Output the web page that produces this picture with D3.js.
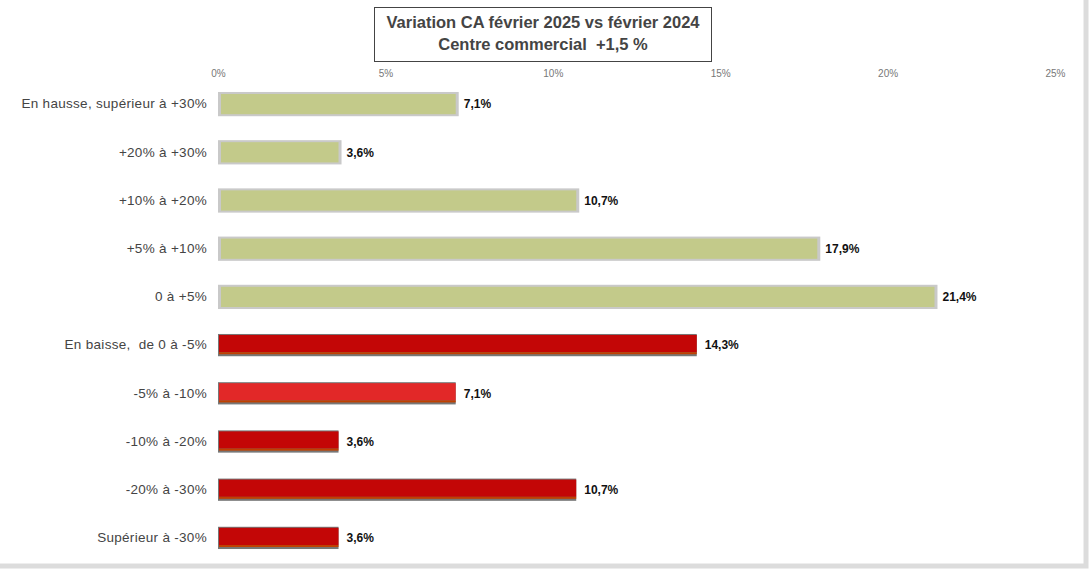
<!DOCTYPE html>
<html><head><meta charset="utf-8">
<script src="https://cdn.jsdelivr.net/npm/d3@7"></script>
<style>body{margin:0;background:#fff}svg{display:block}text{white-space:pre}</style>
</head><body>
<svg id="c" width="1090" height="570"></svg>
<script>
const categories = ["En hausse, supérieur à +30%","+20% à +30%","+10% à +20%","+5% à +10%","0 à +5%","En baisse,  de 0 à -5%","-5% à -10%","-10% à -20%","-20% à -30%","Supérieur à -30%"];
const values = [7.1,3.6,10.7,17.9,21.4,14.3,7.1,3.6,10.7,3.6];
const groups = ["up","up","up","up","up","down","down","down","down","down"];
const tickValues = [0,5,10,15,20,25];
const titleLines = ["Variation CA février 2025 vs février 2024","Centre commercial  +1,5 %"];

const svg = d3.select("#c");
const font = "'Liberation Sans', Arial, sans-serif";

// frame
svg.append("rect").attr("x",-4).attr("y",-4).attr("width",1090).attr("height",570)
  .attr("fill","none").attr("stroke","#dcdcdc").attr("stroke-width",5);

const x = d3.scaleLinear().domain([0,25]).range([218,1055]);
const y = d3.scaleBand().domain(categories).range([80,562]).paddingInner(0.58).paddingOuter(0.29);

// top axis
const ax = svg.append("g").attr("transform","translate(0,77)")
  .call(d3.axisTop(x).tickValues(tickValues).tickFormat(d=>d+"%").tickSize(0).tickPadding(0));
ax.select(".domain").remove();
ax.selectAll("text").attr("font-family",font).attr("font-size",10).attr("fill","#777");

// y labels
const ay = svg.append("g").attr("transform","translate(207,0)")
  .call(d3.axisLeft(y).tickSize(0).tickPadding(0));
ay.select(".domain").remove();
ay.selectAll("text").attr("font-family",font).attr("font-size",13.5).attr("letter-spacing","0.3px").attr("fill","#444");

const colors = {up:"#c3ca8a", down:"#c30606"};
const bars = svg.append("g");
categories.forEach((c,i)=>{
  const y0 = y(c), h = y.bandwidth(), w = x(values[i]) - x(0);
  if (groups[i]==="up") {
    bars.append("rect").attr("x",x(0)).attr("y",y0-2).attr("width",w+3).attr("height",h+4).attr("fill","#c9c9c9");
    bars.append("rect").attr("x",x(0)+3).attr("y",y0).attr("width",w-3).attr("height",h).attr("fill",colors.up);
  } else {
    bars.append("rect").attr("x",x(0)).attr("y",y0-1).attr("width",w).attr("height",h+2).attr("fill","#777");
    bars.append("rect").attr("x",x(0)+1).attr("y",y0).attr("width",w-1).attr("height",h-3)
      .attr("fill", i===6 ? "#e22828" : colors.down);
    bars.append("rect").attr("x",x(0)+1).attr("y",y0+h-3).attr("width",w-1).attr("height",2).attr("fill","#c04000");
  }
});

svg.append("g").selectAll("text").data(categories).join("text")
  .attr("x",(d,i)=>x(values[i])+8).attr("y",d=>y(d)+y.bandwidth()/2).attr("dy","0.35em")
  .attr("font-family",font).attr("font-size",12).attr("font-weight","bold").attr("fill","#111")
  .text((d,i)=>d3.format(".1f")(values[i]).replace(".",",")+"%");

// title
svg.append("rect").attr("x",374.5).attr("y",7.5).attr("width",337).attr("height",54)
  .attr("fill","#fff").attr("stroke","#444").attr("stroke-width",1);
svg.append("g").selectAll("text").data(titleLines).join("text")
  .attr("x",543).attr("y",(d,i)=>28+i*22).attr("text-anchor","middle")
  .attr("font-family",font).attr("font-size",16.5).attr("font-weight","bold").attr("fill","#444")
  .text(d=>d);
</script>
</body></html>
